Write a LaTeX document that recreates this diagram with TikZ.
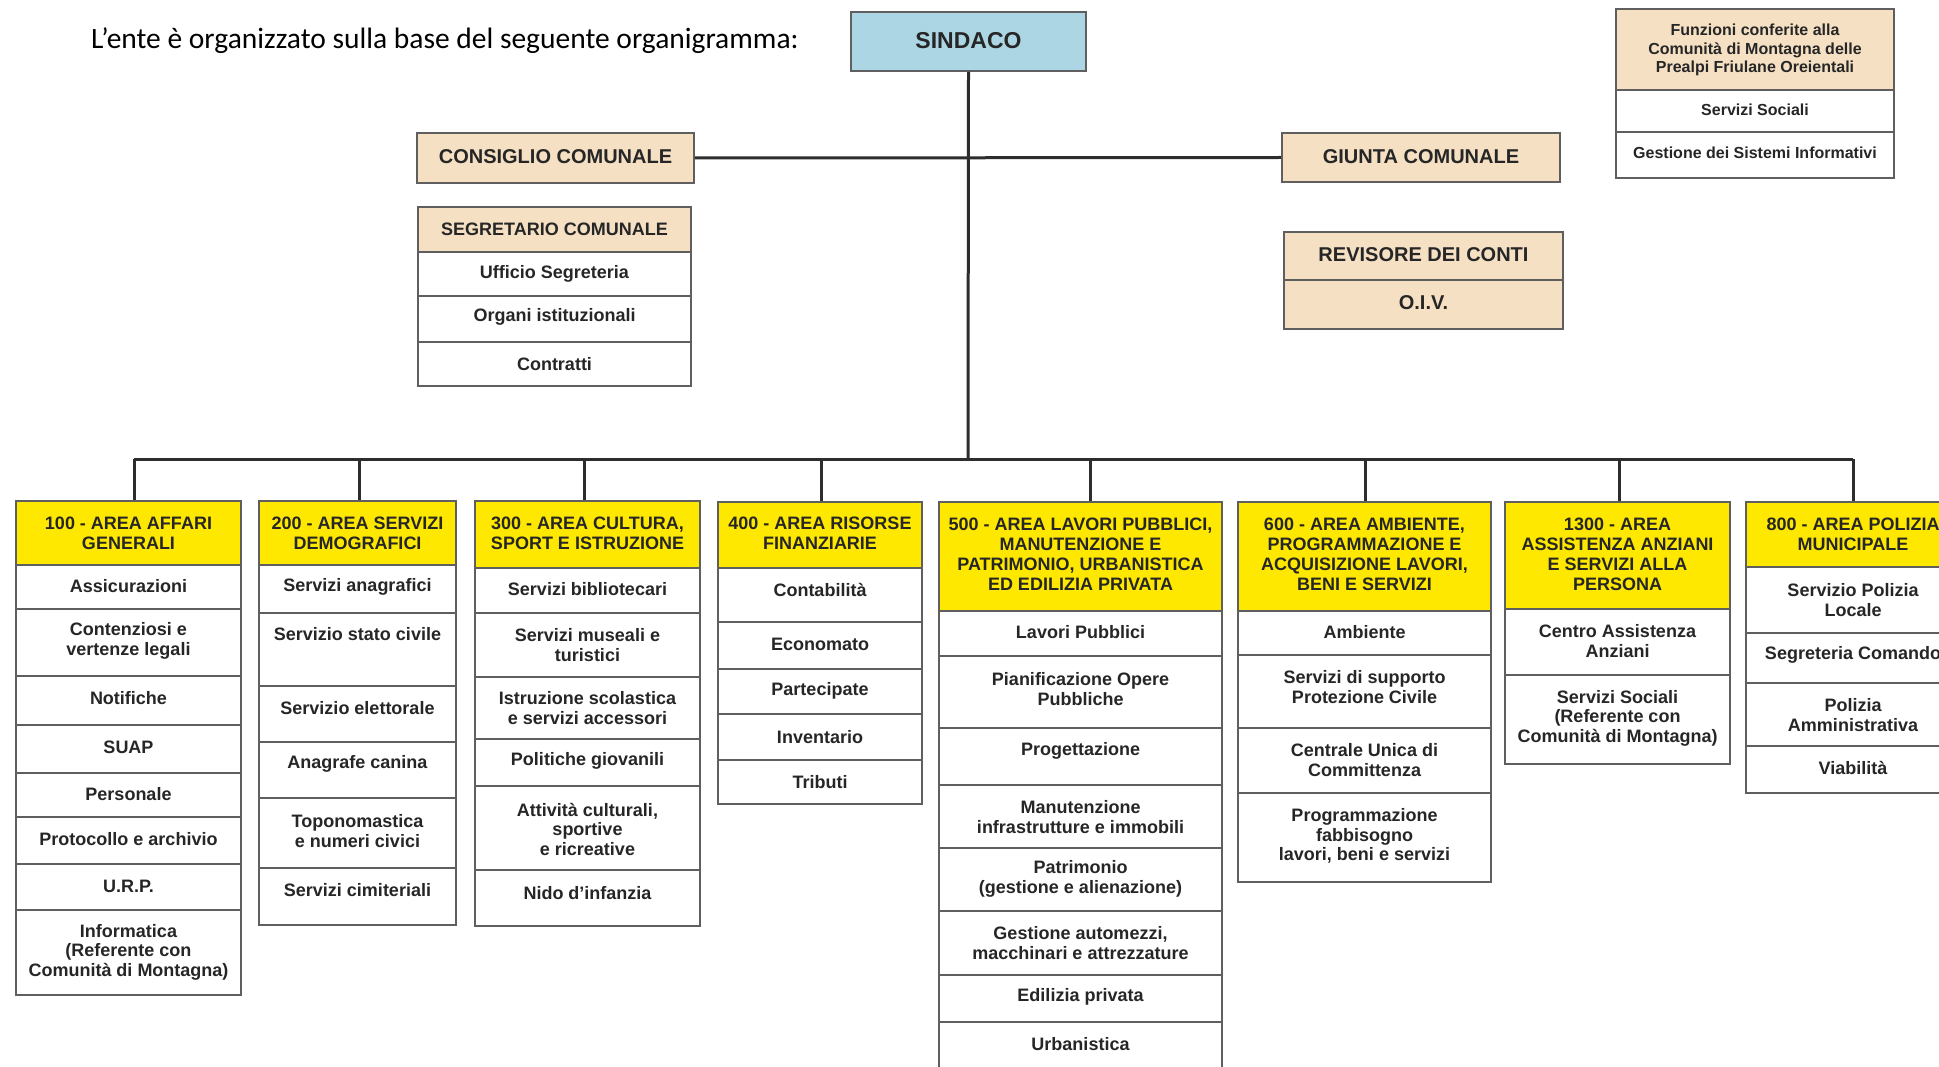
\documentclass[tikz,border=0pt]{standalone}
\usepackage{fontspec}
\setmainfont{Liberation Sans}
\newfontfamily\calfont{Carlito}
\usetikzlibrary{fit}
\definecolor{hdrY}{RGB}{255,232,0}
\definecolor{beigeC}{RGB}{245,224,196}
\definecolor{blueC}{RGB}{172,214,227}
\definecolor{txtC}{RGB}{38,38,38}
\definecolor{frameC}{RGB}{95,95,95}
\definecolor{connC}{RGB}{45,45,45}
\tikzset{
  cellframe/.style={draw=frameC, line width=1.6pt, inner sep=0pt},
  cellt/.style={text=txtC, font=\fontsize{18}{19.5}\selectfont\bfseries, align=center, inner sep=0pt},
  hdrt/.style={text=txtC, font=\fontsize{18}{20}\selectfont\bfseries, align=center, inner sep=0pt},
  conn/.style={draw=connC, line width=3pt},
}
% #1 name, #2 fill, #3 text style, #4 x1, #5 x2, #6 y1, #7 y2, #8 text y, #9 text
\newcommand\ocell[9]{%
  \node[cellframe, fill=#2, fit={(#4,#6) (#5,#7)}] (#1) {};
  \node[#3] (#1t) at ({(#4+#5)/2},#8) {#9};
}
\begin{document}
\begin{tikzpicture}[x=1pt,y=-1pt]
\useasboundingbox (0,0) rectangle (1939,1067);
\clip (0,0) rectangle (1939,1067);
\fill[white] (0,0) rectangle (1939,1067);

% title
\node[anchor=base west, inner sep=0pt, font=\calfont\fontsize{29.5}{34}\selectfont] (title) at (91,48.5) {L’ente è organizzato sulla base del seguente organigramma:};

% bus coordinates
\coordinate (bus) at (968,459);
\coordinate (d1) at (134,459);
\coordinate (d2) at (359,459);
\coordinate (d3) at (584,459);
\coordinate (d4) at (821,459);
\coordinate (d5) at (1090,459);
\coordinate (d6) at (1365,459);
\coordinate (d7) at (1619,459);
\coordinate (d8) at (1853,459);

% top level
\ocell{sind}{blueC}{hdrt, font=\fontsize{23}{26}\selectfont\bfseries}{851}{1086}{12}{71}{41}{SINDACO}
\ocell{cons}{beigeC}{hdrt, font=\fontsize{20}{22}\selectfont\bfseries}{417}{694}{133}{183}{157}{CONSIGLIO COMUNALE}
\ocell{giun}{beigeC}{hdrt, font=\fontsize{20}{22}\selectfont\bfseries}{1282}{1560}{133}{182}{157}{GIUNTA COMUNALE}

\draw[conn] (sind.south) -- (bus);
\draw[conn] (cons.east) -- (giun.west);
\draw[conn] (d1) -- (d8);

% segretario
\ocell{segr}{beigeC}{cellt}{418}{691}{207}{252}{229}{SEGRETARIO COMUNALE}
\ocell{segra}{white}{cellt}{418}{691}{252}{296}{274}{Ufficio Segreteria}
\ocell{segrb}{white}{cellt}{418}{691}{296}{342}{317}{Organi istituzionali}
\ocell{segrc}{white}{cellt}{418}{691}{342}{386}{364}{Contratti}

% revisore
\ocell{revi}{beigeC}{hdrt, font=\fontsize{20}{22}\selectfont\bfseries}{1284}{1563}{232}{280}{255}{REVISORE DEI CONTI}
\ocell{oiv}{beigeC}{hdrt, font=\fontsize{20}{22}\selectfont\bfseries}{1284}{1563}{280}{329}{303}{O.I.V.}

% funzioni conferite
\ocell{funz}{beigeC}{hdrt, font=\fontsize{16}{18.3}\selectfont\bfseries}{1616}{1894}{9}{90}{50}{Funzioni conferite alla\\Comunità di Montagna delle\\Prealpi Friulane Oreientali}
\ocell{funza}{white}{hdrt, font=\fontsize{16}{18.3}\selectfont\bfseries}{1616}{1894}{90}{132}{110}{Servizi Sociali}
\ocell{funzb}{white}{hdrt, font=\fontsize{16}{18.3}\selectfont\bfseries}{1616}{1894}{132}{178}{153}{Gestione dei Sistemi Informativi}

% column 100
\ocell{h100}{hdrY}{hdrt}{16}{241}{501}{565}{533}{100 - AREA AFFARI\\GENERALI}
\ocell{c100a}{white}{cellt}{16}{241}{565}{609}{586}{Assicurazioni}
\ocell{c100b}{white}{cellt}{16}{241}{609}{676}{641}{Contenziosi e\\vertenze legali}
\ocell{c100c}{white}{cellt}{16}{241}{676}{725}{698}{Notifiche}
\ocell{c100d}{white}{cellt}{16}{241}{725}{773}{747}{SUAP}
\ocell{c100e}{white}{cellt}{16}{241}{773}{817}{794}{Personale}
\ocell{c100f}{white}{cellt}{16}{241}{817}{864}{839}{Protocollo e archivio}
\ocell{c100g}{white}{cellt}{16}{241}{864}{910}{886}{U.R.P.}
\ocell{c100h}{white}{cellt}{16}{241}{910}{995}{952}{Informatica\\(Referente con\\Comunità di Montagna)}

% column 200
\ocell{h200}{hdrY}{hdrt}{259}{456}{501}{565}{533}{200 - AREA SERVIZI\\DEMOGRAFICI}
\ocell{c200a}{white}{cellt}{259}{456}{565}{613}{587}{Servizi anagrafici}
\ocell{c200b}{white}{cellt}{259}{456}{613}{686}{634}{Servizio stato civile}
\ocell{c200c}{white}{cellt}{259}{456}{686}{742}{708}{Servizio elettorale}
\ocell{c200d}{white}{cellt}{259}{456}{742}{798}{764}{Anagrafe canina}
\ocell{c200e}{white}{cellt}{259}{456}{798}{868}{831}{Toponomastica\\e numeri civici}
\ocell{c200f}{white}{cellt}{259}{456}{868}{925}{890}{Servizi cimiteriali}

% column 300
\ocell{h300}{hdrY}{hdrt}{475}{700}{501}{568}{533}{300 - AREA CULTURA,\\SPORT E ISTRUZIONE}
\ocell{c300a}{white}{cellt}{475}{700}{568}{613}{589}{Servizi bibliotecari}
\ocell{c300b}{white}{cellt}{475}{700}{613}{677}{645}{Servizi museali e\\turistici}
\ocell{c300c}{white}{cellt}{475}{700}{677}{739}{708}{Istruzione scolastica\\e servizi accessori}
\ocell{c300d}{white}{cellt}{475}{700}{739}{786}{761}{Politiche giovanili}
\ocell{c300e}{white}{cellt}{475}{700}{786}{870}{829}{Attività culturali,\\sportive\\e ricreative}
\ocell{c300f}{white}{cellt}{475}{700}{870}{926}{893}{Nido d’infanzia}

% column 400
\ocell{h400}{hdrY}{hdrt}{718}{922}{502}{568}{533}{400 - AREA RISORSE\\FINANZIARIE}
\ocell{c400a}{white}{cellt}{718}{922}{568}{622}{590}{Contabilità}
\ocell{c400b}{white}{cellt}{718}{922}{622}{669}{644}{Economato}
\ocell{c400c}{white}{cellt}{718}{922}{669}{714}{691}{Partecipate}
\ocell{c400d}{white}{cellt}{718}{922}{714}{760}{737}{Inventario}
\ocell{c400e}{white}{cellt}{718}{922}{760}{804}{782}{Tributi}

% column 500
\ocell{h500}{hdrY}{hdrt}{939}{1222}{502}{611}{554}{500 - AREA LAVORI PUBBLICI,\\MANUTENZIONE E\\PATRIMONIO, URBANISTICA\\ED EDILIZIA PRIVATA}
\ocell{c500a}{white}{cellt}{939}{1222}{611}{656}{632}{Lavori Pubblici}
\ocell{c500b}{white}{cellt}{939}{1222}{656}{728}{689}{Pianificazione Opere\\Pubbliche}
\ocell{c500c}{white}{cellt}{939}{1222}{728}{785}{751}{Progettazione}
\ocell{c500d}{white}{cellt}{939}{1222}{785}{848}{817}{Manutenzione\\infrastrutture e immobili}
\ocell{c500e}{white}{cellt}{939}{1222}{848}{911}{879}{Patrimonio\\(gestione e alienazione)}
\ocell{c500f}{white}{cellt}{939}{1222}{911}{975}{943}{Gestione automezzi,\\macchinari e attrezzature}
\ocell{c500g}{white}{cellt}{939}{1222}{975}{1022}{997}{Edilizia privata}
\ocell{c500h}{white}{cellt}{939}{1222}{1022}{1085}{1044}{Urbanistica}

% column 600
\ocell{h600}{hdrY}{hdrt}{1238}{1491}{502}{611}{554}{600 - AREA AMBIENTE,\\PROGRAMMAZIONE E\\ACQUISIZIONE LAVORI,\\BENI E SERVIZI}
\ocell{c600a}{white}{cellt}{1238}{1491}{611}{655}{632}{Ambiente}
\ocell{c600b}{white}{cellt}{1238}{1491}{655}{728}{687}{Servizi di supporto\\Protezione Civile}
\ocell{c600c}{white}{cellt}{1238}{1491}{728}{793}{760}{Centrale Unica di\\Committenza}
\ocell{c600d}{white}{cellt}{1238}{1491}{793}{882}{836}{Programmazione\\fabbisogno\\lavori, beni e servizi}

% column 1300
\ocell{h1300}{hdrY}{hdrt}{1505}{1730}{502}{609}{554}{1300 - AREA\\ASSISTENZA ANZIANI\\E SERVIZI ALLA\\PERSONA}
\ocell{c1300a}{white}{cellt}{1505}{1730}{609}{675}{641}{Centro Assistenza\\Anziani}
\ocell{c1300b}{white}{cellt}{1505}{1730}{675}{764}{718}{Servizi Sociali\\(Referente con\\Comunità di Montagna)}

% column 800
\ocell{h800}{hdrY}{hdrt}{1746}{1960}{502}{567}{534}{800 - AREA POLIZIA\\MUNICIPALE}
\ocell{c800a}{white}{cellt}{1746}{1960}{567}{633}{600}{Servizio Polizia\\Locale}
\ocell{c800b}{white}{cellt}{1746}{1960}{633}{683}{655}{Segreteria Comando}
\ocell{c800c}{white}{cellt}{1746}{1960}{683}{746}{715}{Polizia\\Amministrativa}
\ocell{c800d}{white}{cellt}{1746}{1960}{746}{793}{768}{Viabilità}

% drops
\draw[conn] (d1) -- (d1 |- h100.north);
\draw[conn] (d2) -- (d2 |- h200.north);
\draw[conn] (d3) -- (d3 |- h300.north);
\draw[conn] (d4) -- (d4 |- h400.north);
\draw[conn] (d5) -- (d5 |- h500.north);
\draw[conn] (d6) -- (d6 |- h600.north);
\draw[conn] (d7) -- (d7 |- h1300.north);
\draw[conn] (d8) -- (d8 |- h800.north);
\end{tikzpicture}
\end{document}
